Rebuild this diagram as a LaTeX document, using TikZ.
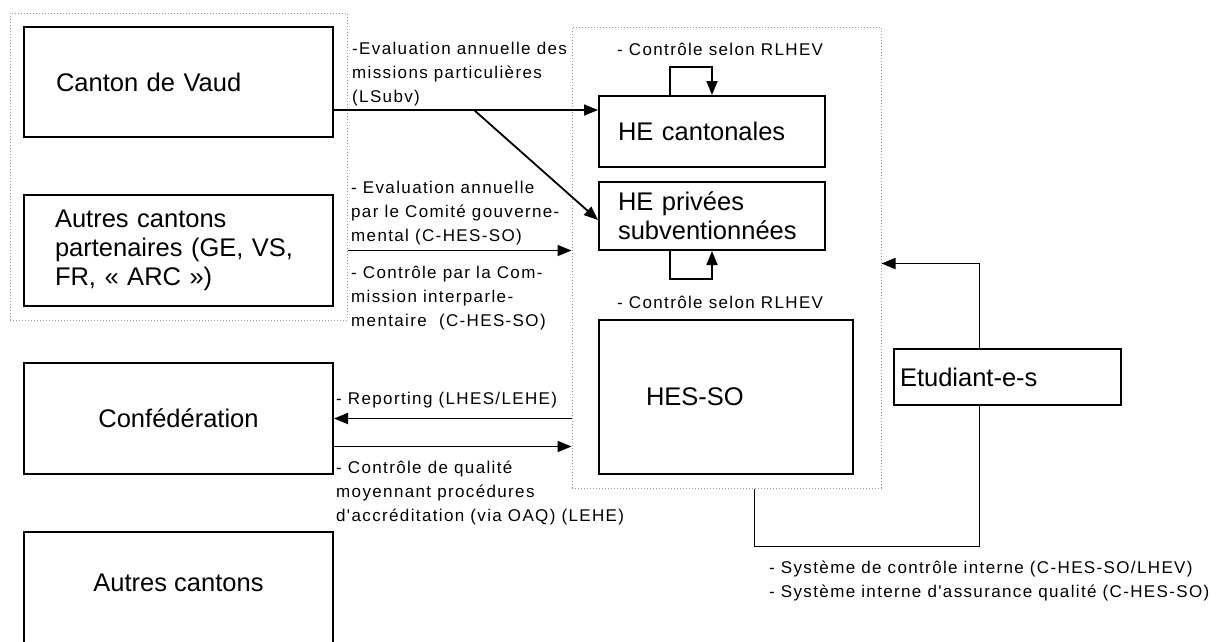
\documentclass[tikz,border=0pt]{standalone}
\usepackage{fontspec}
\setmainfont{Liberation Sans}
\newfontfamily\lblfont[LetterSpace=8]{Liberation Sans}
\usetikzlibrary{arrows.meta}
\begin{document}
\begin{tikzpicture}[x=1pt,y=-1pt,
  bloc/.style={draw, rectangle, line width=2pt, inner ysep=0pt, font=\fontsize{25.5}{29}\selectfont},
  groupe/.style={draw=gray!80, dotted, line width=1pt, rectangle, inner sep=0pt},
  lbl/.style={inner sep=0pt, anchor=west, align=left, font=\lblfont\fontsize{17}{24}\selectfont},
  fleche/.style={line width=1.8pt, -{Triangle[length=14pt,width=11pt]}},
  lien/.style={line width=1.8pt}]
\useasboundingbox (0,0) rectangle (1221,641);
\clip (0,0) rectangle (1221,641);
\node[groupe, minimum width=337pt, minimum height=307pt] (grpL) at (178.5,166.5){};
\node[groupe, minimum width=309pt, minimum height=461pt] (grpR) at (726.5,257.5){};
\node[bloc, minimum width=309pt, minimum height=110pt, text width=245pt, inner xsep=32pt, align=left] (vaud) at (178.5,82){Canton de Vaud};
\node[bloc, minimum width=309pt, minimum height=111pt, text width=247pt, inner xsep=31pt, align=left] (partn) at (178.5,250.5){Autres cantons\\partenaires (GE, VS,\\FR, «~ARC~»)};
\node[bloc, minimum width=309pt, minimum height=111pt] (confed) at (178.5,418.5){Confédération};
\node[bloc, minimum width=309pt, minimum height=138pt] (autres) at (178.5,601){};
\node[font=\fontsize{25.5}{29}\selectfont] (autresTxt) at ([yshift=-52pt]autres.north){Autres cantons};
\node[bloc, minimum width=226pt, minimum height=71pt, text width=188pt, inner xsep=19pt, align=left] (hecant) at (712,131.5){HE cantonales};
\node[bloc, minimum width=226pt, minimum height=68pt, text width=188pt, inner xsep=19pt, align=left] (hepriv) at (712,216){HE privées\\subventionnées};
\node[bloc, minimum width=254pt, minimum height=154pt, text width=160pt, inner xsep=47pt, align=left] (hesso) at (726,397){HES-SO};
\node[bloc, minimum width=227pt, minimum height=56pt, text width=215pt, inner xsep=6pt, align=left] (etud) at (1007.5,377){Etudiant-e-s};
\node[lbl] (lblVaud) at (352,74){-Evaluation annuelle des\\missions particulières\\(LSubv)};
\node[lbl] (lblComite) at (351,213){- Evaluation annuelle\\par le Comité gouverne-\\mental (C-HES-SO)};
\node[lbl] (lblCommission) at (351,298){- Contrôle par la Com-\\mission interparle-\\mentaire~~(C-HES-SO)};
\node[lbl] (lblRlhevA) at (617,49){- Contrôle selon RLHEV};
\node[lbl] (lblRlhevB) at (617,302){- Contrôle selon RLHEV};
\node[lbl] (lblReport) at (336,400){- Reporting (LHES/LEHE)};
\node[lbl] (lblQualite) at (336,493){- Contrôle de qualité\\moyennant procédures\\d'accréditation (via OAQ) (LEHE)};
\node[lbl] (lblSysteme) at (769,580.5){- Système de contrôle interne (C-HES-SO/LHEV)\\- Système interne d'assurance qualité (C-HES-SO)};
\coordinate (vaudOut) at ([yshift=-28pt]vaud.east);
\coordinate (diagStart) at ([xshift=140pt]vaudOut);
\draw[fleche] (vaudOut) -- (vaudOut -| hecant.west);
\draw[fleche] (diagStart) -- ([yshift=-4pt]hepriv.west);
\draw[fleche] (partn.east -| grpL.east) -- (partn.east -| grpR.west);
\draw[fleche] (confed.east -| grpR.west) -- (confed.east);
\draw[fleche] ([yshift=-28pt]confed.east) -- ([yshift=-28pt]confed.east -| grpR.west);
\draw[fleche] ([xshift=-42pt]hecant.north) |- ([yshift=28pt]hecant.north) -- (hecant.north);
\draw[fleche] ([xshift=-42pt]hepriv.south) |- ([yshift=-28pt]hepriv.south) -- (hepriv.south);
\draw[fleche] ([xshift=-28pt]etud.north) |- ([yshift=-6pt]grpR.east);
\draw[lien] ([xshift=28pt]grpR.south) -- ++(0,58) -| ([xshift=-28pt]etud.south);
\end{tikzpicture}
\end{document}
